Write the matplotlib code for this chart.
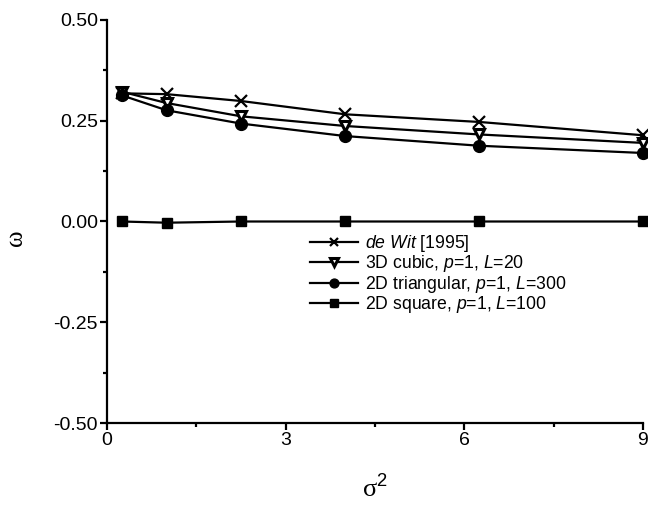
import matplotlib
matplotlib.use("Agg")
import matplotlib.pyplot as plt
from matplotlib.ticker import MultipleLocator

plt.rcParams['font.family'] = ['Liberation Sans', 'DejaVu Sans']
plt.rcParams['mathtext.fontset'] = 'custom'
plt.rcParams['mathtext.rm'] = 'Liberation Sans'
plt.rcParams['mathtext.it'] = 'Liberation Sans:italic'

# sigma^2 values
sigma2 = [0.25, 1.0, 2.25, 4.0, 6.25, 9.0]

# omega values
de_wit = [0.318, 0.316, 0.299, 0.266, 0.247, 0.214]
cubic_3d = [0.322, 0.294, 0.261, 0.237, 0.216, 0.195]
triang_2d = [0.313, 0.276, 0.243, 0.212, 0.188, 0.170]
square_2d = [0.0, -0.003, 0.0, 0.0, 0.0, 0.0]

labels = [r"$\mathit{de\ Wit}$ [1995]",
          r"3D cubic, $\mathit{p}$=1, $\mathit{L}$=20",
          r"2D triangular, $\mathit{p}$=1, $\mathit{L}$=300",
          r"2D square, $\mathit{p}$=1, $\mathit{L}$=100"]

fig = plt.figure(figsize=(6.48, 5.08), dpi=100)
ax = fig.add_axes([107/648, 1-423/508, 536/648, 403/508])

lw = 1.6
ax.plot(sigma2, de_wit, color='black', lw=lw, marker='x', ms=8, mew=1.6,
        clip_on=False, label=labels[0], zorder=3)
ax.plot(sigma2, cubic_3d, color='black', lw=lw, marker='v', ms=7, mew=2.2,
        mfc='white', mec='black', clip_on=False, label=labels[1], zorder=3)
ax.plot(sigma2, triang_2d, color='black', lw=lw, marker='o', ms=8.5,
        clip_on=False, label=labels[2], zorder=3)
ax.plot(sigma2, square_2d, color='black', lw=lw, marker='s', ms=7.5,
        clip_on=False, label=labels[3], zorder=3)

ax.set_xlim(0, 9)
ax.set_ylim(-0.5, 0.5)
ax.xaxis.set_major_locator(MultipleLocator(3))
ax.xaxis.set_minor_locator(MultipleLocator(1.5))
ax.yaxis.set_major_locator(MultipleLocator(0.25))
ax.yaxis.set_minor_locator(MultipleLocator(0.125))
ax.yaxis.set_major_formatter(matplotlib.ticker.FormatStrFormatter('%.2f'))

for s in ['top', 'right']:
    ax.spines[s].set_visible(False)
for s in ['left', 'bottom']:
    ax.spines[s].set_linewidth(1.6)

ax.tick_params(which='major', direction='out', length=5, width=1.6,
               labelsize=14, pad=1.5)
ax.tick_params(which='minor', direction='out', length=3, width=1.6)

ax.set_xlabel(u"\u03c3$^{2}$", fontsize=19, family=['Liberation Serif'])
ax.xaxis.set_label_coords(0.5, -0.13)
ax.set_ylabel(u"\u03c9", fontsize=18, family=['Liberation Serif'])
ax.yaxis.set_label_coords(-0.15, 0.46)

ax.legend(loc='upper left', bbox_to_anchor=(310/648, 1-233/508),
          bbox_transform=fig.transFigure, frameon=False, fontsize=12.7,
          handlelength=2.7, handletextpad=0.4, labelspacing=-0.03,
          markerscale=0.75, borderpad=0, borderaxespad=0)

plt.savefig("out.png", dpi=100)
